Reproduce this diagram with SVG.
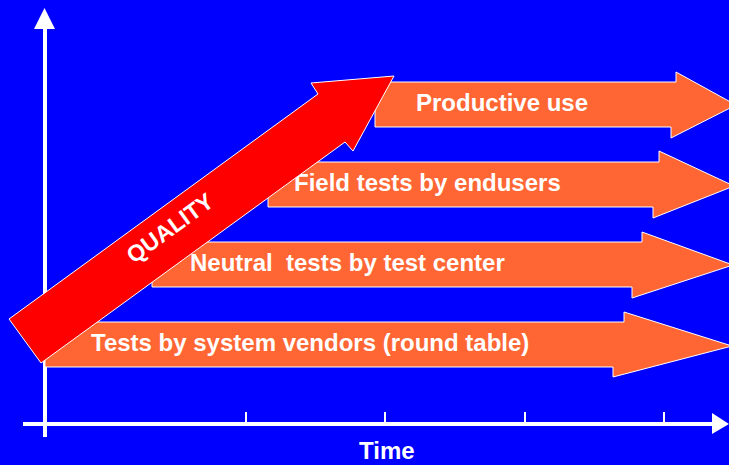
<svg xmlns="http://www.w3.org/2000/svg" width="729" height="465" viewBox="0 0 729 465">
  <style>
    .bg { fill: #0000FF; }
    .axis { stroke: #FFFFFF; stroke-width: 4; fill: none; }
    .tick { stroke: #FFFFFF; stroke-width: 2; fill: none; }
    .head { fill: #FFFFFF; stroke: none; }
    .phase { fill: #FF6633; stroke: #FFFFFF; stroke-width: 1; stroke-linejoin: miter; }
    .quality { fill: #FF0000; stroke: #FFFFFF; stroke-width: 1; }
    .lbl { fill: #FFFFFF; font-family: "Liberation Sans", Arial, sans-serif; font-weight: bold; font-size: 24px; white-space: pre; }
  </style>
  <rect class="bg" x="0" y="0" width="729" height="465"/>

  <g id="connectors">
    <line class="axis" x1="45" y1="28" x2="45" y2="437"/>
    <polygon class="head" points="34,29 44.5,8 55,29"/>
    <line class="axis" x1="23" y1="424" x2="713" y2="424"/>
    <polygon class="head" points="712,413 729,424 712,434"/>
    <line class="tick" x1="246" y1="412" x2="246" y2="424"/>
    <line class="tick" x1="385" y1="412" x2="385" y2="424"/>
    <line class="tick" x1="525" y1="412" x2="525" y2="424"/>
    <line class="tick" x1="664" y1="412" x2="664" y2="424"/>
  </g>

  <g id="time-label">
    <text class="lbl" x="359" y="459">Time</text>
  </g>

  <g id="productive-use">
    <polygon class="phase" points="375,82 676,82 676,72 736,105 671,138 671,127 375,127"/>
    <text class="lbl" x="416" y="111">Productive use</text>
  </g>

  <g id="field-tests">
    <polygon class="phase" points="268,162 659,162 659,151 734,186 653,218 653,207 268,207"/>
    <text class="lbl" x="294" y="191">Field tests by endusers</text>
  </g>

  <g id="neutral-tests">
    <polygon class="phase" points="152,242 642,242 642,232 733,265 632,298 632,287 152,287"/>
    <text class="lbl" x="190" y="271">Neutral  tests by test center</text>
  </g>

  <g id="vendor-tests">
    <polygon class="phase" points="45,322 624,322 624,312 732,346 613,377 613,367 45,367"/>
    <text class="lbl" x="91" y="351">Tests by system vendors (round table)</text>
  </g>

  <g id="quality">
    <polygon class="quality" points="9,319 318,94 311,83 394,76 353,151 345,142 41,363"/>
    <text class="lbl" style="font-size:23px" text-anchor="middle" transform="translate(170,228) rotate(-36)" x="0" y="8">QUALITY</text>
  </g>
</svg>
